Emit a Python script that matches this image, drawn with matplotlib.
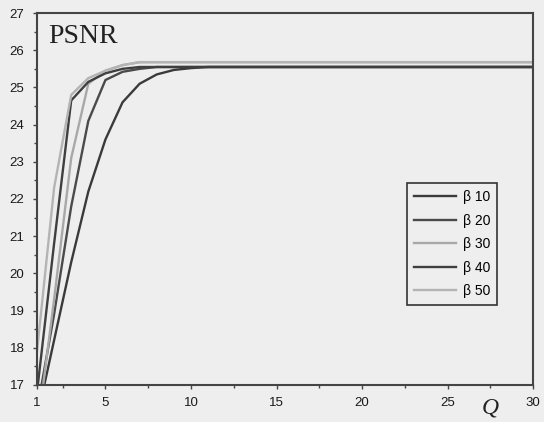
import matplotlib.pyplot as plt
from matplotlib.ticker import MultipleLocator, FixedLocator

# PSNR vs Q for five beta values
q = list(range(1, 31))

psnr_b50 = [17.9, 22.3, 24.8, 25.25, 25.45, 25.6] + [25.68] * 24
psnr_b40 = [16.8, 20.8, 24.65, 25.15, 25.38, 25.5] + [25.55] * 24
psnr_b30 = [15.7, 19.3, 23.1, 25.1, 25.45, 25.6] + [25.68] * 24
psnr_b20 = [16.3, 18.9, 21.8, 24.1, 25.2, 25.42, 25.5] + [25.55] * 23
psnr_b10 = [16.1, 18.2, 20.3, 22.2, 23.6, 24.6, 25.1, 25.35, 25.47, 25.52] + [25.55] * 20

labels = ["\u03b2 10", "\u03b2 20", "\u03b2 30", "\u03b2 40", "\u03b2 50"]
series = [psnr_b10, psnr_b20, psnr_b30, psnr_b40, psnr_b50]
colors = ["#3a3a3a", "#4a4a4a", "#a8a8a8", "#3f3f3f", "#b4b4b4"]

bg = "#eeeeee"
fig = plt.figure(figsize=(5.44, 4.22), dpi=100, facecolor=bg)
ax = fig.add_axes([0.068, 0.088, 0.912, 0.881], facecolor=bg)

for y, c, lab in zip(series, colors, labels):
    ax.plot(q, y, color=c, linewidth=1.7, label=lab)

ax.set_xlim(1, 30)
ax.set_ylim(17, 27)
ax.xaxis.set_major_locator(FixedLocator([1, 5, 10, 15, 20, 25, 30]))
ax.xaxis.set_minor_locator(MultipleLocator(2.5))
ax.yaxis.set_major_locator(MultipleLocator(1))
ax.yaxis.set_minor_locator(MultipleLocator(0.5))

ax.tick_params(which="both", direction="out", color="#444444", width=1)
ax.tick_params(which="major", length=3, labelsize=9.5, labelcolor="#1a1a1a", pad=6)
ax.tick_params(which="minor", length=2)
for lbl in ax.get_xticklabels() + ax.get_yticklabels():
    lbl.set_family("Liberation Sans")

for s in ax.spines.values():
    s.set_color("#444444")
    s.set_linewidth(1.5)

ax.text(1.64, 26.19, "PSNR", family="Liberation Serif", fontsize=20,
        color="#222222", va="baseline", ha="left")
ax.text(27.5, 16.22, "Q", family="Liberation Serif", fontsize=17,
        style="italic", color="#222222", ha="center", va="baseline",
        clip_on=False)

leg = ax.legend(loc="upper left", bbox_to_anchor=(0.732, 0.561),
                frameon=True, fancybox=False, edgecolor="#333333",
                facecolor=bg, framealpha=1, handlelength=3.0,
                labelspacing=0.68, borderpad=0.5, handletextpad=0.5,
                prop={"family": "Liberation Sans", "size": 10})
leg.get_frame().set_linewidth(1.2)

fig.savefig("out.png", dpi=100, facecolor=bg)
